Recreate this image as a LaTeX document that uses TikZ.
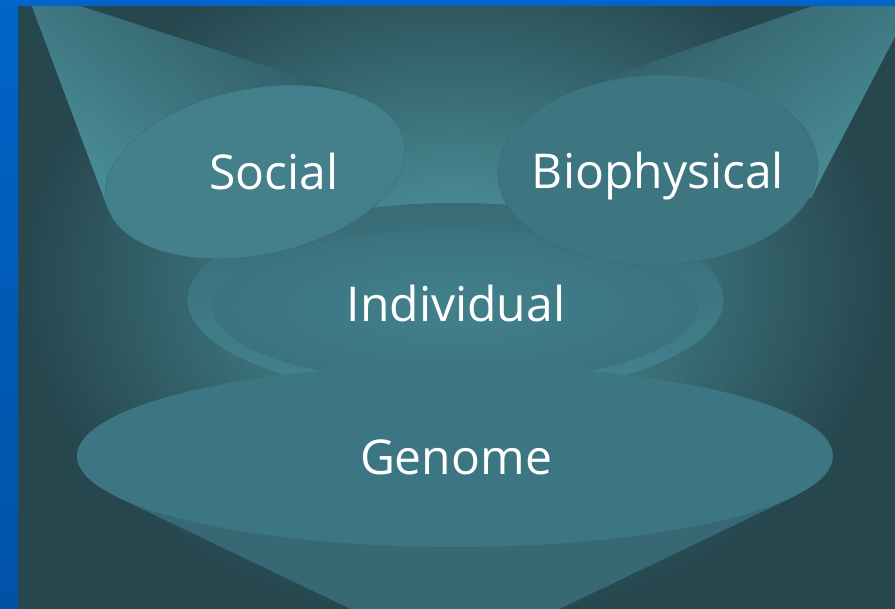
\documentclass[tikz,border=0pt]{standalone}
\usepackage{fontspec}
\setmainfont{Open Sans}
\definecolor{bgdark}{HTML}{27474F}
\definecolor{glowc}{HTML}{468891}
\definecolor{bluetop}{HTML}{0064C8}
\definecolor{bluebot}{HTML}{0052A6}
\definecolor{socialfill}{HTML}{43808B}
\definecolor{biofill}{HTML}{3D7580}
\definecolor{conelight}{HTML}{4A8E98}
\definecolor{conedark}{HTML}{2E5861}
\definecolor{genend}{HTML}{3C7682}
\definecolor{genmid}{HTML}{34646F}
\definecolor{rimdark}{HTML}{35646E}
\definecolor{indtop}{HTML}{396B76}
\definecolor{indbot}{HTML}{428390}
\definecolor{indin}{HTML}{41818C}
\definecolor{indout}{HTML}{3B737E}
\definecolor{gconeside}{HTML}{376974}
\definecolor{gconemid}{HTML}{2D5760}
\pgfdeclareradialshading{backglow}{\pgfpoint{0bp}{0bp}}{%
  color(0bp)=(glowc); color(6bp)=(glowc); color(25bp)=(bgdark); color(50bp)=(bgdark)}
\begin{document}
\begin{tikzpicture}[x=1pt,y=1pt,
  caption/.style={text=white, font=\fontsize{48}{56}\selectfont, anchor=base, inner sep=0pt},
  rim/.style={draw=rimdark, line width=0.8pt, draw opacity=0.4}]
\useasboundingbox (0,0) rectangle (895,609);
\begin{scope}
  \clip (18,0) rectangle (895,603);
  % backdrop with a soft central glow
  \fill[bgdark] (0,0) rectangle (895,609);
  \shade[shading=backglow] (25,-11) rectangle (885,669);

  % Individual: layered disc
  \shade[top color=indtop, bottom color=indbot] (455.5,309) ellipse [x radius=268, y radius=97];
  \shade[inner color=indin, outer color=indout] (455,302) ellipse [x radius=243, y radius=77];

  % Social: cone from the upper left corner
  \shade[top color=conedark, bottom color=conelight, shading angle=-39]
    (25,621) -- (350.2,515.6) -- (108,400) -- cycle;
  \fill[socialfill] (255,437) ellipse [x radius=152, y radius=83, rotate=11.5];
  \draw[rim] (255,437) ellipse [x radius=152, y radius=83, rotate=11.5];

  % Biophysical: cone from the upper right corner
  \shade[top color=conedark, bottom color=conelight, shading angle=37]
    (933,645) -- (810.8,410.9) -- (577,520.9) -- cycle;
  \fill[biofill] (658,439) ellipse [x radius=160, y radius=95, rotate=2];
  \draw[rim] (658,439) ellipse [x radius=160, y radius=95, rotate=2];

  % Genome: cone opening downwards
  \shade[left color=gconeside, middle color=gconemid, right color=gconeside]
    (455,-50) -- (117,112) -- (455,153) -- (793,112) -- cycle;
  \shade[left color=genend, middle color=genmid, right color=genend]
    (455,153) ellipse [x radius=378, y radius=91];
\end{scope}

% labels
\node[caption] (social) at (274,419) {Social};
\node[caption] (biophysical) at (658,420) {Biophysical};
\node[caption] (individual) at (456,287) {Individual};
\node[caption] (genome) at (456,134) {Genome};

% frame
\shade[top color=bluetop, bottom color=bluebot] (0,0) rectangle (18,609);
\fill[bluetop] (0,603) rectangle (895,609);
\end{tikzpicture}
\end{document}
